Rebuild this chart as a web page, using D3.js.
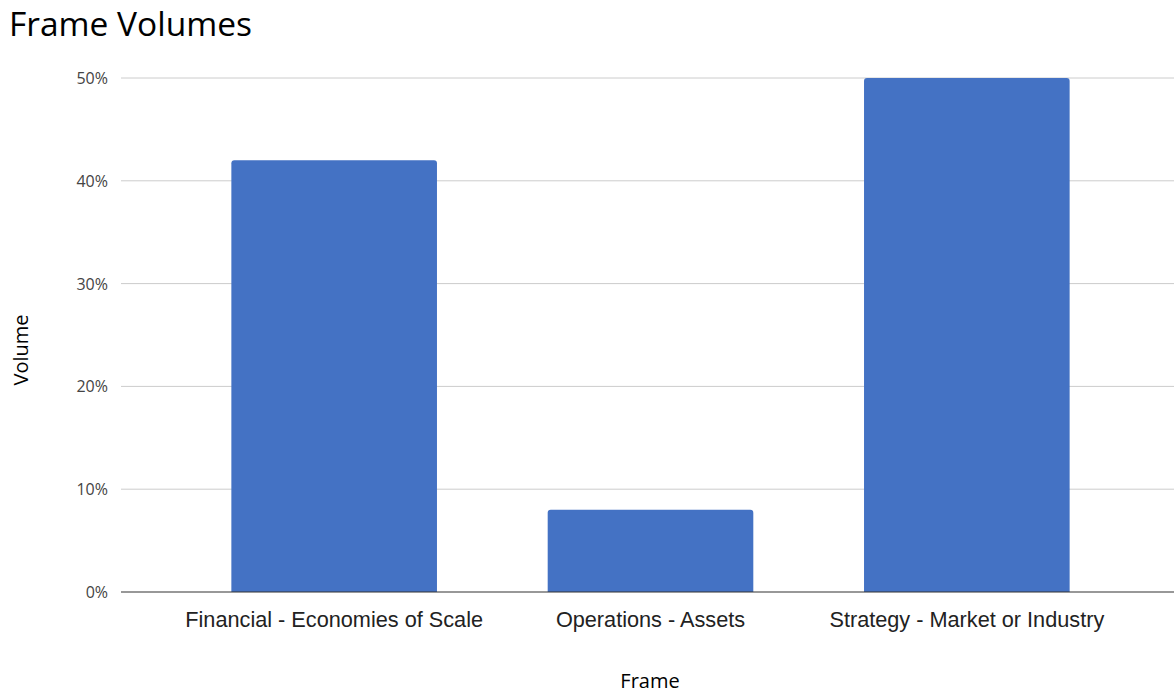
<!DOCTYPE html>
<html>
<head>
<meta charset="utf-8">
<script src="https://cdn.jsdelivr.net/npm/d3@7"></script>
<style>
  body { margin: 0; background: #fff; }
  svg { display: block; }
</style>
</head>
<body>
<svg id="chart" width="1174" height="695"></svg>
<script>
const frames = ["Financial - Economies of Scale", "Operations - Assets", "Strategy - Market or Industry"];
const volumes = [0.42, 0.08, 0.50];
const yTicks = [0, 0.1, 0.2, 0.3, 0.4, 0.5];

const width = 1174, height = 695;
const svg = d3.select("#chart");

const x = d3.scaleBand()
    .domain(frames)
    .range([176, 1125])
    .paddingInner(0.35)
    .paddingOuter(0.175);

const y = d3.scaleLinear()
    .domain([0, 0.5])
    .range([592, 78]);

// title
svg.append("text")
    .attr("x", 9)
    .attr("y", 36)
    .attr("font-family", "Open Sans")
    .attr("font-size", 33.5)
    .attr("fill", "#000")
    .text("Frame Volumes");

// gridlines
svg.append("g")
    .selectAll("line")
    .data(yTicks.filter(d => d > 0))
    .join("line")
    .attr("x1", 121)
    .attr("x2", width)
    .attr("y1", d => y(d))
    .attr("y2", d => y(d))
    .attr("stroke", "#cccccc")
    .attr("stroke-width", 1);

// y tick labels
svg.append("g")
    .selectAll("text")
    .data(yTicks)
    .join("text")
    .attr("x", 108)
    .attr("y", d => y(d) + 6)
    .attr("text-anchor", "end")
    .attr("font-family", "Open Sans")
    .attr("font-size", 16)
    .attr("fill", "#444")
    .text(d => d3.format(".0%")(d));

// bars, top corners slightly rounded
const r = 3;
svg.append("g")
    .selectAll("path")
    .data(frames)
    .join("path")
    .attr("fill", "#4472c4")
    .attr("d", (d, i) => {
        const x0 = x(d), x1 = x(d) + x.bandwidth();
        const y0 = y(0), y1 = y(volumes[i]);
        return `M${x0},${y0}V${y1 + r}Q${x0},${y1} ${x0 + r},${y1}H${x1 - r}Q${x1},${y1} ${x1},${y1 + r}V${y0}Z`;
    });

// baseline
svg.append("line")
    .attr("x1", 121)
    .attr("x2", width)
    .attr("y1", y(0))
    .attr("y2", y(0))
    .attr("stroke", "#333")
    .attr("stroke-width", 1.2);

// category labels
svg.append("g")
    .selectAll("text")
    .data(frames)
    .join("text")
    .attr("x", d => x(d) + x.bandwidth() / 2)
    .attr("y", 627)
    .attr("text-anchor", "middle")
    .attr("font-family", "Liberation Sans, Arial")
    .attr("font-size", 21.7)
    .attr("fill", "#222")
    .text(d => d);

// axis titles
svg.append("text")
    .attr("x", 650)
    .attr("y", 688)
    .attr("text-anchor", "middle")
    .attr("font-family", "Open Sans")
    .attr("font-size", 20)
    .attr("fill", "#000")
    .text("Frame");

svg.append("text")
    .attr("transform", "translate(28,350) rotate(-90)")
    .attr("text-anchor", "middle")
    .attr("font-family", "Open Sans")
    .attr("font-size", 20)
    .attr("fill", "#000")
    .text("Volume");
</script>
</body>
</html>
